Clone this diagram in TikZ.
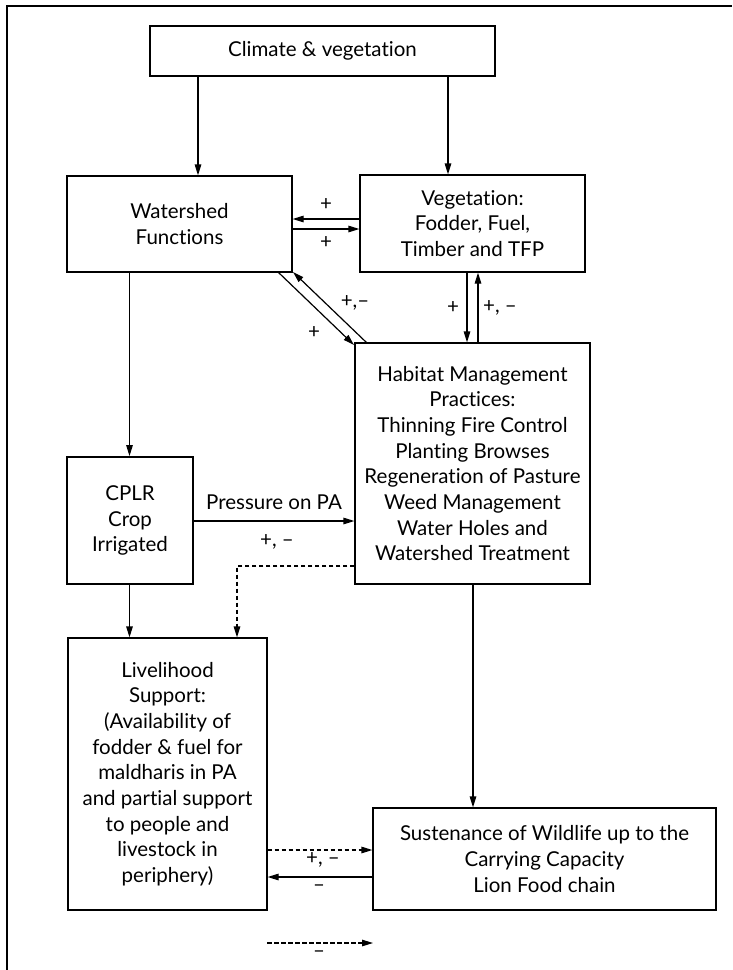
\documentclass[tikz,border=0pt]{standalone}
\usepackage{fontspec}
\setmainfont{Lato}[Ligatures=NoCommon]
\usetikzlibrary{arrows.meta,calc}
\begin{document}
\begin{tikzpicture}[x=1pt,y=-1pt,
  every node/.style={font=\fontsize{20.5}{25.7}\selectfont},
  box/.style={draw, line width=1.2pt, align=center, inner sep=0pt},
  arr/.style={line width=1.2pt, -{Triangle[length=11pt,width=6.5pt]}},
  dsh/.style={arr, dash pattern=on 4.5pt off 2.5pt},
  lbl/.style={inner sep=0pt}]
\useasboundingbox (0,0) rectangle (732,970);
\draw[line width=1.2pt] (7,970) -- (7,6) -- (732,6);

\node[box, minimum width=345pt, minimum height=50pt] (clim) at (322.5,51) {Climate \& vegetation};
\node[box, minimum width=225pt, minimum height=96pt] (ws) at (179.5,224) {Watershed\\Functions};
\node[box, minimum width=225pt, minimum height=97pt] (veg) at (472.5,223.5) {Vegetation:\\Fodder, Fuel,\\Timber and TFP};
\node[box, minimum width=235pt, minimum height=241pt] (hab) at (472.5,463.5) {Habitat Management\\Practices:\\Thinning Fire Control\\Planting Browses\\Regeneration of Pasture\\Weed Management\\Water Holes and\\Watershed Treatment};
\node[box, line width=1.8pt, minimum width=126pt, minimum height=127pt] (cplr) at (130,520.5) {CPLR\\Crop\\Irrigated};
\node[box, minimum width=199pt, minimum height=272pt] (liv) at (167.5,774) {Livelihood\\Support:\\(Availability of\\fodder \& fuel for\\maldharis in PA\\and partial support\\to people and\\livestock in\\periphery)};
\node[box, minimum width=343pt, minimum height=102pt] (sus) at (544.5,859) {Sustenance of Wildlife up to the\\Carrying Capacity\\Lion Food chain};

\coordinate (xa) at (198,0);
\coordinate (xb) at (448,0);
\coordinate (xc) at (129.5,0);
\coordinate (xd) at (467,0);
\coordinate (xe) at (478,0);
\coordinate (xf) at (473,0);
\coordinate (xg) at (237,0);
\coordinate (ya) at (0,219);
\coordinate (yb) at (0,229);
\coordinate (yc) at (0,521);
\coordinate (yd) at (0,566);
\coordinate (ye) at (0,850);
\coordinate (yf) at (0,877);
\coordinate (d1s) at (278,272);
\coordinate (d1e) at (354,345);
\coordinate (d2s) at (367,343);
\coordinate (d2e) at (293,272);
\coordinate (l1) at (267,943);
\coordinate (l2) at (373,943);

\draw[arr] (clim.south -| xa) -- (ws.north -| xa);
\draw[arr] (clim.south -| xb) -- (veg.north -| xb);
\draw[arr] (veg.west |- ya) -- (ws.east |- ya);
\draw[arr] (ws.east |- yb) -- (veg.west |- yb);
\draw[arr] (d1s) -- (d1e);
\draw[arr] (d2s) -- (d2e);
\draw[arr] (veg.south -| xd) -- (hab.north -| xd);
\draw[arr] (hab.north -| xe) -- (veg.south -| xe);
\draw[arr] (ws.south -| xc) -- (cplr.north -| xc);
\draw[arr] (cplr.south -| xc) -- (liv.north -| xc);
\draw[arr] (cplr.east |- yc) -- (hab.west |- yc);
\draw[dsh] (hab.west |- yd) -| (liv.north -| xg);
\draw[arr] (hab.south -| xf) -- (sus.north -| xf);
\draw[dsh] (liv.east |- ye) -- (sus.west |- ye);
\draw[arr] (sus.west |- yf) -- (liv.east |- yf);
\draw[dsh] (l1) -- (l2);

\node[lbl] (p1) at (326,205) {+};
\node[lbl] (p2) at (326,243) {+};
\node[lbl] (p3) at (314,333) {+};
\node[lbl] (p4) at (355,303) {+,–};
\node[lbl] (p5) at (453,308) {+};
\node[lbl] (p6) at (500,308) {+, –};
\node[lbl] (p7) at (274,502) {Pressure on PA};
\node[lbl] (p8) at (277,542) {+, –};
\node[lbl] (p9) at (323,860) {+, –};
\node[lbl] (p10) at (319,888) {–};
\node[lbl] (p11) at (319,954) {–};
\end{tikzpicture}
\end{document}
